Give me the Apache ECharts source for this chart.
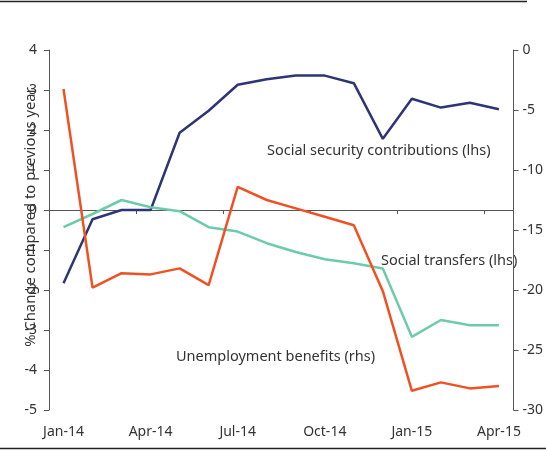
<!DOCTYPE html>
<html>
<head>
<meta charset="utf-8">
<script src="https://cdn.jsdelivr.net/npm/echarts@6/dist/echarts.min.js"></script>
<style>html,body{margin:0;padding:0;background:#fff;}#c{width:546px;height:450px;}</style>
</head>
<body>
<div id="c"></div>
<script>
var categories = ['Jan-14','Feb-14','Mar-14','Apr-14','May-14','Jun-14','Jul-14','Aug-14','Sep-14','Oct-14','Nov-14','Dec-14','Jan-15','Feb-15','Mar-15','Apr-15'];
var socialSecurity = [-1.83,-0.23,0.0,0.0,1.93,2.48,3.13,3.27,3.36,3.36,3.17,1.78,2.78,2.56,2.68,2.52];
var socialTransfers = [-0.43,-0.1,0.25,0.07,-0.03,-0.43,-0.54,-0.83,-1.05,-1.23,-1.33,-1.46,-3.17,-2.75,-2.88,-2.88];
var unemployment = [-3.25,-19.8,-18.6,-18.7,-18.2,-19.6,-11.4,-12.5,-13.2,-13.9,-14.6,-20.1,-28.4,-27.7,-28.2,-28.0];
var leftTicks = {min:-5, max:4, interval:1};
var rightTicks = {min:-30, max:0, interval:5};

var FONT = 'Noto Sans';
var axisColor = '#555';
var textColor = '#333';
var chart = echarts.init(document.getElementById('c'));
chart.setOption({
  animation:false,
  textStyle:{fontFamily:FONT},
  grid:{left:49,right:31,top:50,bottom:40,containLabel:false},
  xAxis:[{
    type:'category',data:categories,position:'bottom',boundaryGap:true,
    axisLine:{show:false,onZero:false},axisTick:{show:false},
    axisLabel:{interval:2,margin:15,fontSize:14,color:textColor,fontFamily:FONT},
    splitLine:{show:false}
  },{
    type:'category',data:categories,position:'bottom',boundaryGap:true,
    axisLine:{show:true,onZero:true,onZeroAxisIndex:0,lineStyle:{color:axisColor,width:1}},
    axisTick:{show:true,interval:2,length:4,lineStyle:{color:axisColor}},
    axisLabel:{show:false},splitLine:{show:false}
  }],
  yAxis:[{
    type:'value',position:'left',min:leftTicks.min,max:leftTicks.max,interval:leftTicks.interval,
    axisLine:{show:true,lineStyle:{color:axisColor,width:1}},
    axisTick:{show:true,length:5,lineStyle:{color:axisColor}},
    axisLabel:{fontSize:14,color:textColor,margin:12,fontFamily:FONT},
    splitLine:{show:false}
  },{
    type:'value',position:'right',min:rightTicks.min,max:rightTicks.max,interval:rightTicks.interval,
    axisLine:{show:true,lineStyle:{color:axisColor,width:1}},
    axisTick:{show:true,length:5,lineStyle:{color:axisColor}},
    axisLabel:{fontSize:14,color:textColor,margin:9,fontFamily:FONT},
    splitLine:{show:false}
  }],
  series:[{
    name:'Social security contributions (lhs)',type:'line',xAxisIndex:0,yAxisIndex:0,data:socialSecurity,
    symbol:'none',lineStyle:{color:'#2d3577',width:2.5},itemStyle:{color:'#2d3577'}
  },{
    name:'Social transfers (lhs)',type:'line',xAxisIndex:0,yAxisIndex:0,data:socialTransfers,
    symbol:'none',lineStyle:{color:'#6dcbaa',width:2.5},itemStyle:{color:'#6dcbaa'}
  },{
    name:'Unemployment benefits (rhs)',type:'line',xAxisIndex:0,yAxisIndex:1,data:unemployment,
    symbol:'none',lineStyle:{color:'#ef5123',width:2.5},itemStyle:{color:'#ef5123'}
  }],
  graphic:[
    {type:'line',shape:{x1:0,y1:1.5,x2:527,y2:1.5},style:{stroke:'#222',lineWidth:1.5}},
    {type:'line',shape:{x1:0,y1:448.5,x2:546,y2:448.5},style:{stroke:'#222',lineWidth:1.5}},
    {type:'text',x:31,y:217,rotation:Math.PI/2,style:{text:'% Change compared to previous year',fontSize:14.8,fontFamily:FONT,fill:textColor,align:'center',verticalAlign:'middle'}},
    {type:'text',x:267,y:151,style:{text:'Social security contributions (lhs)',fontSize:14.5,fontFamily:FONT,fill:textColor,align:'left',verticalAlign:'middle'}},
    {type:'text',x:381,y:261,style:{text:'Social transfers (lhs)',fontSize:14.5,fontFamily:FONT,fill:textColor,align:'left',verticalAlign:'middle'}},
    {type:'text',x:176,y:357,style:{text:'Unemployment benefits (rhs)',fontSize:14.5,fontFamily:FONT,fill:textColor,align:'left',verticalAlign:'middle'}}
  ]
});
</script>
</body>
</html>
